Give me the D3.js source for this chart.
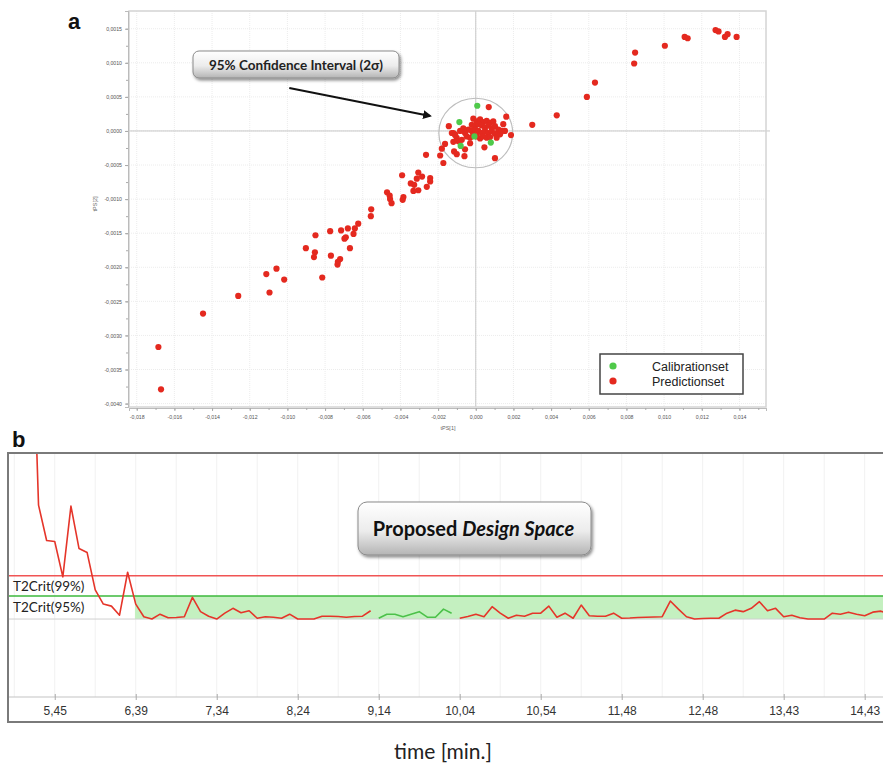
<!DOCTYPE html>
<html>
<head>
<meta charset="utf-8">
<script src="https://cdn.jsdelivr.net/npm/d3@7"></script>
<style>
  body { margin: 0; background: #fff; }
  svg { display: block; }
</style>
</head>
<body>
<div id="chart"></div>
<script>
// ---- data: panel a (score plot tPS[1] vs tPS[2]) ----
var predictionSet = [
  [0.01273,0.00148],[0.01289,0.00146],[0.01337,0.00142],[0.01323,0.00138],[0.01385,0.00138],
  [0.01109,0.00138],[0.01125,0.00136],[0.01004,0.00125],[0.00846,0.00115],[0.00841,0.00099],
  [0.00633,0.00071],[0.00590,0.00050],[0.00430,0.00023],[0.00300,0.00009],[0.00187,-0.00006],
  [0.00162,0.00021],[0.00146,0.00010],[0.00155,0.00000],[0.00129,-0.00001],[0.00102,-0.00040],
  [0.00069,0.00035],[0.00046,-0.00024],[-0.00030,-0.00018],
  // dense cluster round the origin
  [-0.00013,0.00018],[0.00005,0.00014],[0.00023,0.00017],[0.00040,0.00013],[0.00058,0.00015],
  [0.00076,0.00012],[0.00093,0.00014],[-0.00021,0.00009],[-0.00004,0.00007],[0.00014,0.00010],
  [0.00032,0.00008],[0.00049,0.00005],[0.00067,0.00008],[0.00085,0.00004],[0.00102,0.00007],
  [0.00120,0.00002],[-0.00039,0.00002],[-0.00021,0.00000],[-0.00004,0.00002],[0.00014,0.00000],
  [0.00032,-0.00003],[0.00049,0.00000],[0.00067,-0.00003],[0.00085,0.00000],[0.00102,-0.00004],
  [-0.00066,0.00004],[-0.00057,-0.00003],[-0.00048,-0.00008],[-0.00030,-0.00010],[-0.00013,-0.00005],
  [0.00005,-0.00008],[0.00023,-0.00011],[0.00040,-0.00008],[0.00058,-0.00010],[0.00076,-0.00009],
  [-0.00083,0.00000],[-0.00110,-0.00005],[-0.00101,-0.00010],[-0.00119,-0.00003],[-0.00092,-0.00015],
  [-0.00074,-0.00013],[0.00111,-0.00010],[0.00129,-0.00005],[0.00138,0.00000],
  // left branch
  [-0.00143,0.00007],[-0.00127,-0.00003],[-0.00110,-0.00006],[-0.00119,-0.00016],[-0.00163,-0.00019],
  [-0.00180,-0.00026],[-0.00189,-0.00036],[-0.00172,-0.00047],[-0.00115,-0.00030],[-0.00101,-0.00034],
  [-0.00057,-0.00027],[-0.00060,-0.00037],[-0.00264,-0.00035],[-0.00391,-0.00065],[-0.00305,-0.00061],
  [-0.00285,-0.00067],[-0.00242,-0.00069],[-0.00242,-0.00074],[-0.00313,-0.00070],[-0.00345,-0.00077],
  [-0.00327,-0.00079],[-0.00260,-0.00082],[-0.00305,-0.00087],[-0.00331,-0.00088],[-0.00471,-0.00090],
  [-0.00457,-0.00095],[-0.00455,-0.00100],[-0.00447,-0.00106],[-0.00384,-0.00097],[-0.00388,-0.00101],
  [-0.00555,-0.00115],[-0.00557,-0.00125],[-0.00624,-0.00136],[-0.00642,-0.00143],[-0.00679,-0.00143],
  [-0.00715,-0.00146],[-0.00773,-0.00147],[-0.00649,-0.00151],[-0.00690,-0.00156],[-0.00697,-0.00158],
  [-0.00851,-0.00153],[-0.00668,-0.00172],[-0.00902,-0.00172],[-0.00854,-0.00178],[-0.00859,-0.00185],
  [-0.00769,-0.00183],[-0.00720,-0.00188],[-0.00732,-0.00192],[-0.00734,-0.00196],[-0.00815,-0.00215],
  [-0.01058,-0.00202],[-0.01112,-0.00210],[-0.01017,-0.00218],[-0.01095,-0.00237],[-0.01261,-0.00242],
  [-0.01448,-0.00268],[-0.01685,-0.00317],[-0.01671,-0.00379]
];
var calibrationSet = [
  [0.00008,0.00037],[-0.00087,0.00013],[-0.00080,-0.00022],[0.00080,-0.00017],[-0.00007,-0.00008]
];
var confidenceEllipse = { cx: 0, cy: -0.00003, rx: 0.00196, ry: 0.00051 };
var xTicksA = d3.range(-18, 15, 2).map(function(d) { return d / 1000; });
var xMinorA = d3.range(-18, 16, 1).map(function(d) { return d / 1000; });
var yTicksA = d3.range(-40, 16, 5).map(function(d) { return d / 10000; });
var yMinorA = d3.range(-40, 17.5, 2.5).map(function(d) { return d / 10000; });

// ---- data: panel b (T2 over time) ----
var t2 = [43.9,19.0,15.5,15.4,11.9,18.9,14.7,14.3,10.6,9.2,9.0,8.1,12.35,9.2,7.95,7.72,8.2,7.85,7.87,7.95,
  9.87,8.45,8.0,7.72,8.3,8.78,8.35,8.54,7.8,7.95,7.9,7.8,8.2,7.72,7.72,7.72,8.0,8.0,7.97,7.9,7.97,8.0,8.54,
  7.8,8.2,8.2,7.95,8.2,8.45,7.9,7.9,8.7,8.3,
  7.8,7.97,8.2,7.95,8.94,8.3,7.8,8.1,8.0,8.3,8.3,9.0,7.9,8.3,7.8,9.1,8.05,8.0,8.0,8.3,7.8,7.82,7.87,7.9,
  7.92,7.95,9.5,8.7,7.95,7.72,7.77,7.8,7.8,8.3,8.6,8.45,8.78,9.44,8.54,8.78,7.95,8.1,7.85,7.72,7.72,7.72,
  8.3,8.2,8.4,8.2,8.05,8.4,8.5,8.2];
var calibStart = 43, calibEnd = 52;        // sample indices of the calibration run
var t2Crit99 = 12, t2Crit95 = 10, t2Floor = 7.72;
var designStart = 13;                       // first sample of the proposed design space
var timeTickIndex = d3.range(3, 104, 10);
var timeTickLabels = ["5,45","6,39","7,34","8,24","9,14","10,04","10,54","11,48","12,48","13,43","14,43"];

// ---- setup ----
var W = 883, H = 768;
var locale = d3.formatLocale({ decimal: ",", thousands: ".", grouping: [3], currency: ["", ""], minus: "-" });
var svg = d3.select("#chart").append("svg").attr("width", W).attr("height", H);
var defs = svg.append("defs");

var shadow = defs.append("filter").attr("id", "shadow").attr("x", "-10%").attr("y", "-20%").attr("width", "130%").attr("height", "160%");
shadow.append("feDropShadow").attr("dx", 1.5).attr("dy", 2).attr("stdDeviation", 1.5).attr("flood-color", "#000").attr("flood-opacity", 0.45);

var grad = defs.append("linearGradient").attr("id", "btn").attr("x1", 0).attr("y1", 0).attr("x2", 0).attr("y2", 1);
grad.append("stop").attr("offset", "0%").attr("stop-color", "#ffffff");
grad.append("stop").attr("offset", "55%").attr("stop-color", "#ececec");
grad.append("stop").attr("offset", "100%").attr("stop-color", "#b4b4b4");

defs.append("marker").attr("id", "arrow").attr("viewBox", "0 0 10 10").attr("refX", 8).attr("refY", 5)
  .attr("markerWidth", 4).attr("markerHeight", 4).attr("orient", "auto")
  .append("path").attr("d", "M0,0L10,5L0,10z").attr("fill", "#111");

// ================= panel a =================
var a = { left: 129, right: 766, top: 11, bottom: 407 };
var x = d3.scaleLinear().domain([-0.01841, 0.01541]).range([a.left, a.right]);
var y = d3.scaleLinear().domain([-0.00405, 0.00176]).range([a.bottom, a.top]);

var gA = svg.append("g");

// faint grid
gA.append("g").selectAll("line").data(xTicksA).enter().append("line")
  .attr("x1", function(d) { return x(d); }).attr("x2", function(d) { return x(d); })
  .attr("y1", a.top).attr("y2", a.bottom)
  .attr("stroke", "#ececec").attr("stroke-dasharray", "1,1");
gA.append("g").selectAll("line").data(yTicksA).enter().append("line")
  .attr("y1", function(d) { return y(d); }).attr("y2", function(d) { return y(d); })
  .attr("x1", a.left).attr("x2", a.right)
  .attr("stroke", "#ececec").attr("stroke-dasharray", "1,1");

// zero lines
gA.append("line").attr("x1", x(0)).attr("x2", x(0)).attr("y1", a.top).attr("y2", a.bottom).attr("stroke", "#c8c8c8");
gA.append("line").attr("x1", a.left).attr("x2", a.right + 4).attr("y1", y(0)).attr("y2", y(0)).attr("stroke", "#c8c8c8");

// frame
gA.append("rect").attr("x", a.left).attr("y", a.top).attr("width", a.right - a.left).attr("height", a.bottom - a.top)
  .attr("fill", "none").attr("stroke", "#d4d4d4").attr("stroke-width", 1.5);

// axes
gA.append("g").attr("transform", "translate(0," + (a.bottom + 1) + ")")
  .call(d3.axisBottom(x).tickValues(xTicksA).tickSize(3).tickPadding(4).tickFormat(locale.format(".3f")));
gA.append("g").attr("transform", "translate(0," + (a.bottom + 1) + ")")
  .call(d3.axisBottom(x).tickValues(xMinorA).tickSize(2).tickFormat(""));
gA.append("g").attr("transform", "translate(" + (a.left - 1) + ",0)")
  .call(d3.axisLeft(y).tickValues(yTicksA).tickSize(3).tickPadding(3).tickFormat(locale.format(".4f")));
gA.append("g").attr("transform", "translate(" + (a.left - 1) + ",0)")
  .call(d3.axisLeft(y).tickValues(yMinorA).tickSize(2).tickFormat(""));
gA.selectAll(".domain").attr("stroke", "#bbb");
gA.selectAll(".tick line").attr("stroke", "#aaa");
gA.selectAll(".tick text").attr("fill", "#555").style("font-family", "Liberation Sans, Arial, sans-serif").style("font-size", "5.2px");

gA.append("text").attr("x", 448).attr("y", 430).attr("text-anchor", "middle")
  .attr("fill", "#666").style("font-family", "Liberation Sans, Arial, sans-serif").style("font-size", "5.5px").text("tPS[1]");
gA.append("text").attr("transform", "translate(97," + 204 + ") rotate(-90)").attr("text-anchor", "middle")
  .attr("fill", "#666").style("font-family", "Liberation Sans, Arial, sans-serif").style("font-size", "5.5px").text("tPS[2]");

// confidence ellipse
gA.append("ellipse").attr("cx", x(confidenceEllipse.cx)).attr("cy", y(confidenceEllipse.cy))
  .attr("rx", x(confidenceEllipse.rx) - x(0)).attr("ry", y(0) - y(confidenceEllipse.ry))
  .attr("fill", "none").attr("stroke", "#bdbdbd").attr("stroke-width", 1.2);

// dots
gA.append("g").selectAll("circle").data(predictionSet).enter().append("circle")
  .attr("cx", function(d) { return x(d[0]); }).attr("cy", function(d) { return y(d[1]); })
  .attr("r", 3.1).attr("fill", "#e4291f");
gA.append("g").selectAll("circle").data(calibrationSet).enter().append("circle")
  .attr("cx", function(d) { return x(d[0]); }).attr("cy", function(d) { return y(d[1]); })
  .attr("r", 3.1).attr("fill", "#4fc94a");

// legend
var lg = gA.append("g").attr("transform", "translate(600,354)");
lg.append("rect").attr("width", 143).attr("height", 40).attr("fill", "#fff").attr("stroke", "#444").attr("stroke-width", 1.5);
[["Calibrationset", "#4fc94a"], ["Predictionset", "#e4291f"]].forEach(function(e, i) {
  lg.append("circle").attr("cx", 13).attr("cy", 12 + i * 15).attr("r", 3.6).attr("fill", e[1]);
  lg.append("text").attr("x", 52).attr("y", 17 + i * 15).attr("fill", "#222")
    .style("font-family", "Liberation Sans, Arial, sans-serif").style("font-size", "12.5px").text(e[0]);
});

// callout
var cbx = 193, cby = 51, cbw = 206, cbh = 27;
gA.append("rect").attr("x", cbx).attr("y", cby).attr("width", cbw).attr("height", cbh).attr("rx", 6)
  .attr("fill", "url(#btn)").attr("stroke", "#8a8a8a").attr("stroke-width", 1).attr("filter", "url(#shadow)");
gA.append("text").attr("x", cbx + cbw / 2).attr("y", cby + cbh / 2 + 5).attr("text-anchor", "middle")
  .attr("fill", "#222").style("font-family", "Lato, sans-serif").style("font-weight", "bold").style("font-size", "13.5px")
  .text("95% Confidence Interval (2σ)");
gA.append("line").attr("x1", x(-0.0099)).attr("y1", y(0.00063)).attr("x2", x(-0.00242)).attr("y2", y(0.00022))
  .attr("stroke", "#111").attr("stroke-width", 2.2).attr("marker-end", "url(#arrow)");

svg.append("text").attr("x", 68).attr("y", 29).attr("fill", "#111")
  .style("font-family", "Liberation Sans, Arial, sans-serif").style("font-weight", "bold").style("font-size", "22px").text("a");

// ================= panel b =================
var b = { left: 8, right: 883, top: 453, axis: 697, bottom: 722 };
var xb = d3.scaleLinear().domain([-2.77, 105.26]).range([b.left, b.right]);
var yb = d3.scaleLinear().domain([0, 24.16]).range([b.axis, b.top]);
var gB = svg.append("g");

defs.append("clipPath").attr("id", "clipB").append("rect")
  .attr("x", b.left).attr("y", b.top).attr("width", b.right - b.left).attr("height", b.axis - b.top);

// faint vertical grid every 5 samples
gB.append("g").selectAll("line").data(d3.range(-2, 106, 5)).enter().append("line")
  .attr("x1", function(d) { return xb(d); }).attr("x2", function(d) { return xb(d); })
  .attr("y1", b.top).attr("y2", b.axis).attr("stroke", "#f1f1f1");

// design space band
gB.append("rect").attr("x", xb(designStart - 0.1)).attr("y", yb(t2Crit95))
  .attr("width", b.right - xb(designStart - 0.1)).attr("height", yb(t2Floor) - yb(t2Crit95))
  .attr("fill", "#c4f0c0");
gB.append("line").attr("x1", b.left).attr("x2", b.right).attr("y1", yb(t2Floor)).attr("y2", yb(t2Floor))
  .attr("stroke", "#d0d0d0");
gB.append("line").attr("x1", b.left).attr("x2", b.right).attr("y1", yb(t2Crit95)).attr("y2", yb(t2Crit95))
  .attr("stroke", "#3cb83c").attr("stroke-width", 1.6);
gB.append("line").attr("x1", b.left).attr("x2", b.right).attr("y1", yb(t2Crit99)).attr("y2", yb(t2Crit99))
  .attr("stroke", "#f05454").attr("stroke-width", 1.6);

gB.append("text").attr("x", 13).attr("y", 591).attr("fill", "#222").style("font-family", "Lato, sans-serif").style("font-size", "13.5px").text("T2Crit(99%)");
gB.append("text").attr("x", 13).attr("y", 612).attr("fill", "#222").style("font-family", "Lato, sans-serif").style("font-size", "13.5px").text("T2Crit(95%)");

// T2 lines
var isCal = function(i) { return i >= calibStart && i <= calibEnd; };
var line = function(def) {
  return d3.line().defined(function(d, i) { return def(i); })
    .x(function(d, i) { return xb(i); }).y(function(d) { return yb(d); });
};
var lines = gB.append("g").attr("clip-path", "url(#clipB)");
lines.append("path").datum(t2).attr("d", line(function(i) { return !isCal(i); }))
  .attr("fill", "none").attr("stroke", "#e5352a").attr("stroke-width", 1.6).attr("stroke-linejoin", "round");
lines.append("path").datum(t2).attr("d", line(isCal))
  .attr("fill", "none").attr("stroke", "#4cc14a").attr("stroke-width", 1.6).attr("stroke-linejoin", "round");

// time axis
gB.append("line").attr("x1", b.left).attr("x2", b.right).attr("y1", b.axis).attr("y2", b.axis).attr("stroke", "#c4c4c4").attr("stroke-width", 1.2);
var tAxis = gB.append("g").attr("transform", "translate(0," + b.axis + ")")
  .call(d3.axisBottom(xb).tickValues(timeTickIndex).tickSize(3).tickPadding(6)
    .tickFormat(function(d, i) { return timeTickLabels[i]; }));
tAxis.select(".domain").remove();
tAxis.selectAll(".tick line").attr("stroke", "#aaa").attr("y1", -3);
tAxis.selectAll(".tick text").attr("fill", "#333").style("font-family", "Liberation Sans, Arial, sans-serif").style("font-size", "12px");

// frame
gB.append("path").attr("d", "M" + (b.right + 2) + "," + b.top + "H" + b.left + "V" + b.bottom + "H" + (b.right + 2))
  .attr("fill", "none").attr("stroke", "#7a7a7a").attr("stroke-width", 2);

// proposed design space box
var px0 = 358, py0 = 502, pw = 233, ph = 53;
gB.append("rect").attr("x", px0).attr("y", py0).attr("width", pw).attr("height", ph).attr("rx", 9)
  .attr("fill", "url(#btn)").attr("stroke", "#8a8a8a").attr("stroke-width", 1).attr("filter", "url(#shadow)");
var pt = gB.append("text").attr("x", px0 + pw / 2 - 1).attr("y", py0 + ph / 2 + 7).attr("text-anchor", "middle")
  .attr("fill", "#111").style("font-family", "Lato, sans-serif").style("font-weight", "bold").style("font-size", "20px");
pt.append("tspan").text("Proposed ");
pt.append("tspan").style("font-style", "italic").text("Design Space");

svg.append("text").attr("x", 12).attr("y", 447).attr("fill", "#111")
  .style("font-family", "Liberation Sans, Arial, sans-serif").style("font-weight", "bold").style("font-size", "22px").text("b");

svg.append("text").attr("x", 443).attr("y", 759).attr("text-anchor", "middle").attr("fill", "#222")
  .style("font-family", "Lato, sans-serif").style("font-size", "21px").text("time [min.]");
</script>
</body>
</html>
